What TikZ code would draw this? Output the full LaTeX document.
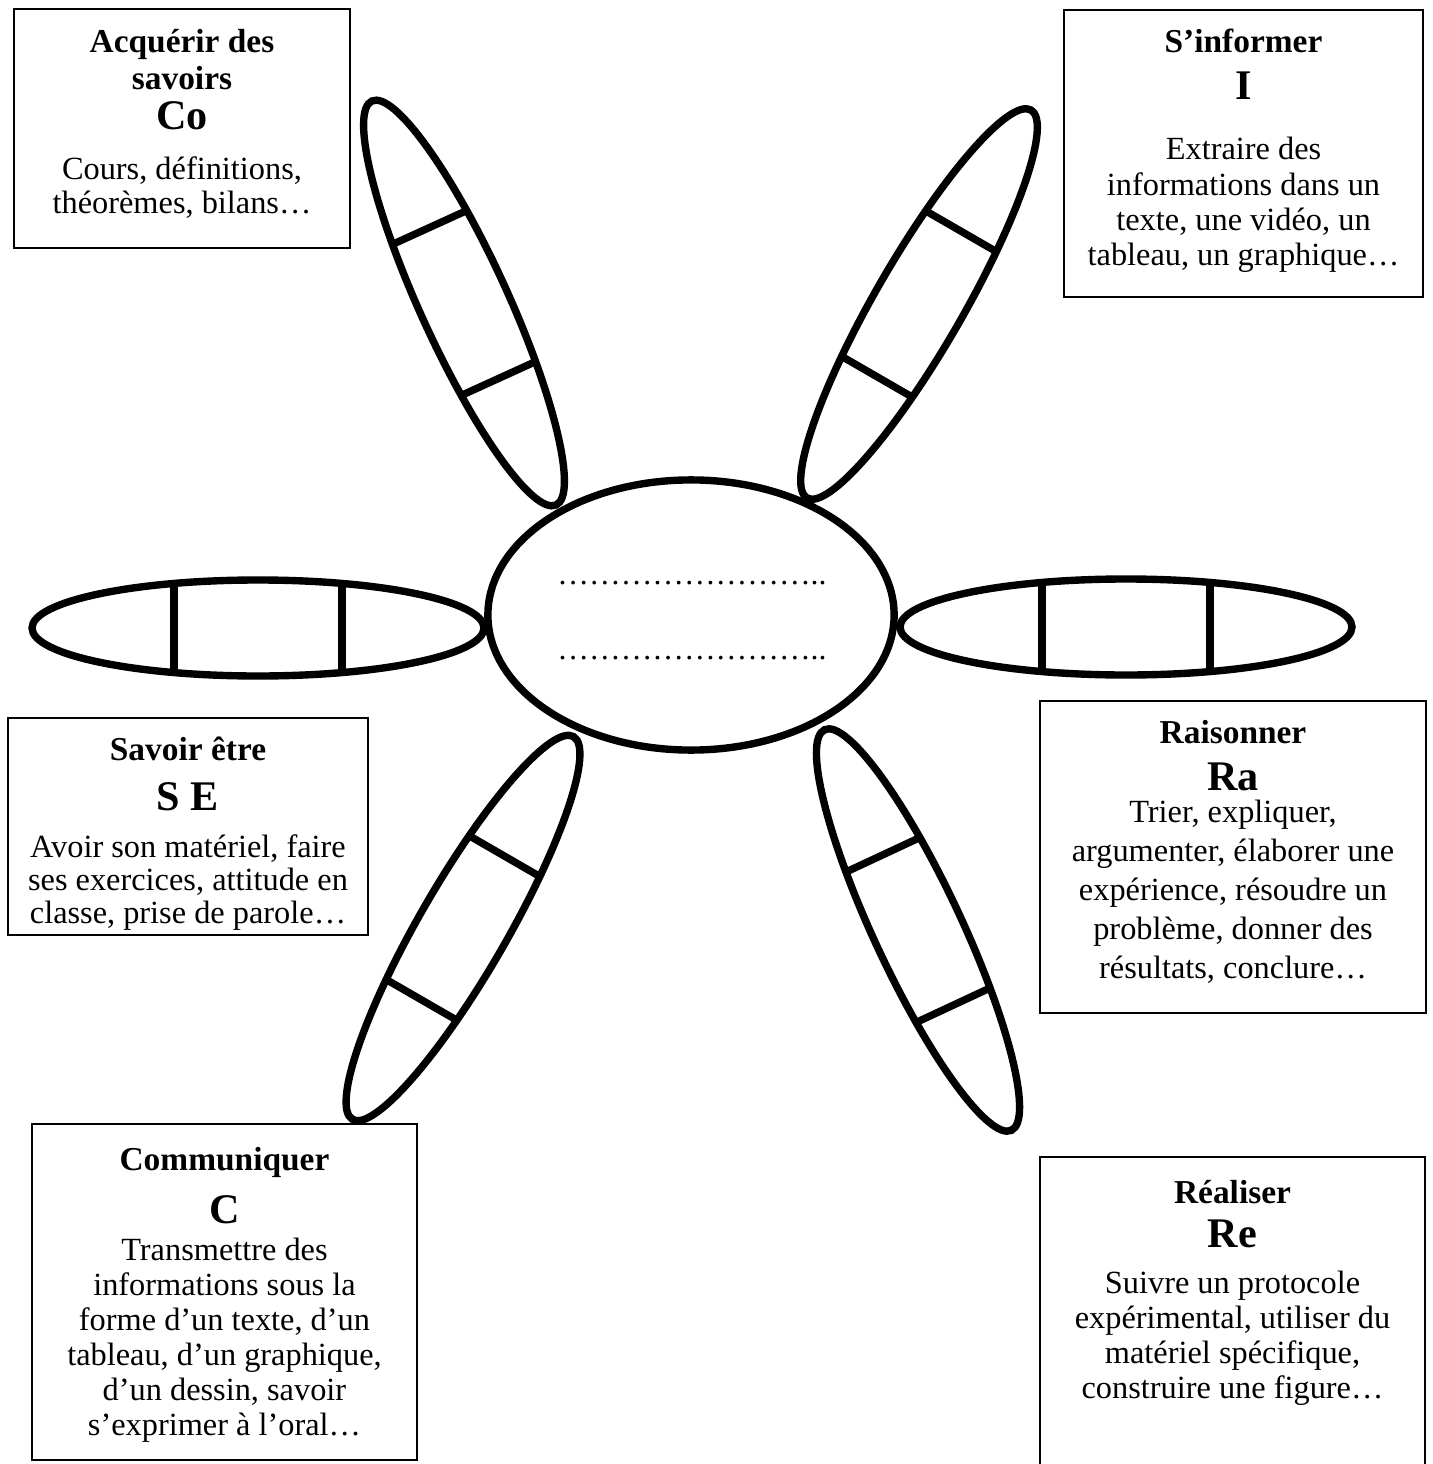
\documentclass[tikz,border=0pt]{standalone}
\usepackage{fontspec}
\setmainfont{Liberation Serif}
\usetikzlibrary{shapes.geometric}

\begin{document}
\begin{tikzpicture}[x=0.01cm, y=-0.01cm,
    cadre/.style={draw, line width=0.4pt, inner sep=0pt},
    titre/.style={anchor=base, text width=3.6cm, align=flush center, inner sep=0pt, font=\fontsize{9.5}{10.5}\selectfont\bfseries},
    lettre/.style={anchor=base, inner sep=0pt, font=\fontsize{12}{13}\selectfont\bfseries},
    corps/.style={anchor=base, text width=3.6cm, align=flush center, inner sep=0pt, font=\fontsize{9.2}{10}\selectfont},
    petale/.style={line width=2.1pt},
    coeur/.style={draw, ellipse, line width=2.1pt, inner sep=0pt, minimum width=4.06cm, minimum height=2.70cm},
    pointilles/.style={anchor=base, inner sep=0pt, font=\fontsize{9}{10}\selectfont}]
    \useasboundingbox (0,0) rectangle (1432,1464);
    \clip (0,0) rectangle (1432,1464);

    % coeur de la fleur
    \node[coeur] (coeur) at (691,615) {};
    \node[pointilles] (ligne1) at (692,584) {……………………..};
    \node[pointilles] (ligne2) at (692,659) {……………………..};

    % petales
    \begin{scope}[shift={(464,303)}, rotate=114.5]
        \draw[petale] (0,0) ellipse [x radius=222, y radius=44];
        \draw[petale] (-83,-41) -- (-83,41);
        \draw[petale] (83,-41) -- (83,41);
    \end{scope}
    \begin{scope}[shift={(919,304)}, rotate=60]
        \draw[petale] (0,0) ellipse [x radius=224, y radius=44];
        \draw[petale] (-84,-41) -- (-84,41);
        \draw[petale] (84,-41) -- (84,41);
    \end{scope}
    \begin{scope}[shift={(258,628)}]
        \draw[petale] (0,0) ellipse [x radius=226, y radius=48];
        \draw[petale] (-84,-45) -- (-84,45);
        \draw[petale] (84,-45) -- (84,45);
    \end{scope}
    \begin{scope}[shift={(1126,627)}]
        \draw[petale] (0,0) ellipse [x radius=226, y radius=48];
        \draw[petale] (-84,-45) -- (-84,45);
        \draw[petale] (84,-45) -- (84,45);
    \end{scope}
    \begin{scope}[shift={(463,928)}, rotate=60]
        \draw[petale] (0,0) ellipse [x radius=221, y radius=44];
        \draw[petale] (-83,-41) -- (-83,41);
        \draw[petale] (83,-41) -- (83,41);
    \end{scope}
    \begin{scope}[shift={(918,930)}, rotate=115]
        \draw[petale] (0,0) ellipse [x radius=221, y radius=44];
        \draw[petale] (-83,-41) -- (-83,41);
        \draw[petale] (83,-41) -- (83,41);
    \end{scope}

    % Acquerir des savoirs
    \node[cadre, minimum width=3.36cm, minimum height=2.39cm] (co) at (182,128.5) {};
    \node[titre] (coTitre) at (182,53) {Acquérir des\\savoirs};
    \node[lettre] (coLettre) at (182,130) {Co};
    \node[corps, font=\fontsize{9.2}{9.4}\selectfont] (coCorps) at (182,180) {Cours, définitions,\\théorèmes, bilans…};

    % S'informer
    \node[cadre, minimum width=3.59cm, minimum height=2.87cm] (info) at (1243.5,153.5) {};
    \node[titre] (infoTitre) at (1243.5,53) {S’informer};
    \node[lettre] (infoLettre) at (1243.5,100) {I};
    \node[corps] (infoCorps) at (1243.5,160) {Extraire des\\informations dans un\\texte, une vidéo, un\\tableau, un graphique…};

    % Savoir etre
    \node[cadre, minimum width=3.60cm, minimum height=2.17cm] (se) at (188,826.5) {};
    \node[titre] (seTitre) at (188,760) {Savoir être};
    \node[lettre] (seLettre) at (188,810) {S E};
    \node[corps, font=\fontsize{9.2}{9.4}\selectfont] (seCorps) at (188,857) {Avoir son matériel, faire\\ses exercices, attitude en\\classe, prise de parole…};

    % Raisonner
    \node[cadre, minimum width=3.86cm, minimum height=3.12cm] (ra) at (1233,857) {};
    \node[titre] (raTitre) at (1233,743) {Raisonner};
    \node[lettre] (raLettre) at (1233,790) {Ra};
    \node[corps, font=\fontsize{9.2}{11.1}\selectfont] (raCorps) at (1233,822) {Trier, expliquer,\\argumenter, élaborer une\\expérience, résoudre un\\problème, donner des\\résultats, conclure…};

    % Communiquer
    \node[cadre, minimum width=3.85cm, minimum height=3.36cm] (comm) at (224.5,1292) {};
    \node[titre] (commTitre) at (224.5,1170) {Communiquer};
    \node[lettre] (commLettre) at (224.5,1223) {C};
    \node[corps] (commCorps) at (224.5,1260) {Transmettre des\\informations sous la\\forme d’un texte, d’un\\tableau, d’un graphique,\\d’un dessin, savoir\\s’exprimer à l’oral…};

    % Realiser
    \node[cadre, minimum width=3.85cm, minimum height=3.23cm] (re) at (1232.5,1318.5) {};
    \node[titre] (reTitre) at (1232.5,1203) {Réaliser};
    \node[lettre] (reLettre) at (1232.5,1247) {Re};
    \node[corps] (reCorps) at (1232.5,1293) {Suivre un protocole\\expérimental, utiliser du\\matériel spécifique,\\construire une figure…};
\end{tikzpicture}
\end{document}
